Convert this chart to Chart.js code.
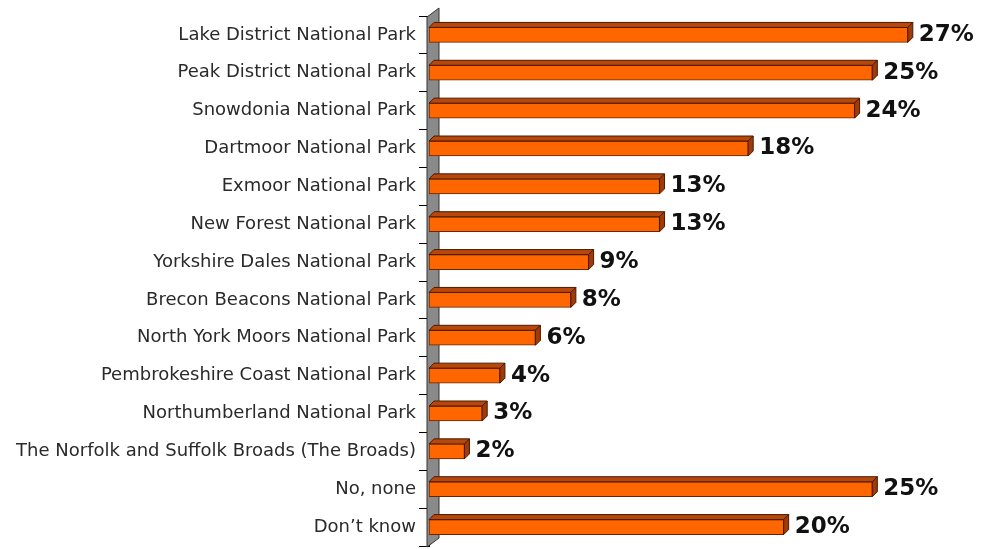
<!DOCTYPE html>
<html>
<head>
<meta charset="utf-8">
<script src="https://cdn.jsdelivr.net/npm/chart.js@4.4.1/dist/chart.umd.min.js"></script>
<style>
  html, body { margin: 0; padding: 0; background: #fff; }
  #wrap { width: 982px; height: 549px; }
</style>
</head>
<body>
<div id="wrap"><canvas id="parks" width="982" height="549"></canvas></div>
<script>
'use strict';

const categories = [
  'Lake District National Park',
  'Peak District National Park',
  'Snowdonia National Park',
  'Dartmoor National Park',
  'Exmoor National Park',
  'New Forest National Park',
  'Yorkshire Dales National Park',
  'Brecon Beacons National Park',
  'North York Moors National Park',
  'Pembrokeshire Coast National Park',
  'Northumberland National Park',
  'The Norfolk and Suffolk Broads (The Broads)',
  'No, none',
  'Don\u2019t know'
];
const percentages = [27, 25, 24, 18, 13, 13, 9, 8, 6, 4, 3, 2, 25, 20];

const DEPTH = 5;

// gray back wall behind the bars
const wallPlugin = {
  id: 'wall',
  beforeDatasetsDraw(chart) {
    const { ctx, chartArea } = chart;
    const x0 = chartArea.left - 2;
    const x1 = x0 + 12;
    ctx.save();
    ctx.fillStyle = '#8a8a8a';
    ctx.strokeStyle = '#333';
    ctx.lineWidth = 1;
    ctx.beginPath();
    ctx.moveTo(x0, chartArea.top + 1);
    ctx.lineTo(x1, chartArea.top - 8);
    ctx.lineTo(x1, chartArea.bottom - 8);
    ctx.lineTo(x0, chartArea.bottom + 1);
    ctx.closePath();
    ctx.fill();
    ctx.stroke();
    ctx.restore();
  }
};

// top and side faces for the 3D look, plus the value labels
const barFacesPlugin = {
  id: 'barFaces',
  afterDatasetsDraw(chart) {
    const { ctx } = chart;
    const meta = chart.getDatasetMeta(0);
    ctx.save();
    meta.data.forEach((bar, i) => {
      const top = bar.y - bar.height / 2;
      const bottom = bar.y + bar.height / 2;
      const left = bar.base;
      const right = bar.x;

      ctx.fillStyle = '#b8470c';
      ctx.strokeStyle = '#4a1a00';
      ctx.lineWidth = 1;
      ctx.beginPath();
      ctx.moveTo(left, top);
      ctx.lineTo(left + DEPTH, top - DEPTH);
      ctx.lineTo(right + DEPTH, top - DEPTH);
      ctx.lineTo(right, top);
      ctx.closePath();
      ctx.fill();
      ctx.stroke();

      ctx.fillStyle = '#a03a06';
      ctx.beginPath();
      ctx.moveTo(right, top);
      ctx.lineTo(right + DEPTH, top - DEPTH);
      ctx.lineTo(right + DEPTH, bottom - DEPTH);
      ctx.lineTo(right, bottom);
      ctx.closePath();
      ctx.fill();
      ctx.stroke();

      ctx.fillStyle = '#111';
      ctx.font = 'bold 23px "DejaVu Sans", Verdana, sans-serif';
      ctx.textAlign = 'left';
      ctx.textBaseline = 'middle';
      ctx.fillText(percentages[i] + '%', right + 11, bar.y);
    });
    ctx.restore();
  }
};

new Chart(document.getElementById('parks').getContext('2d'), {
  type: 'bar',
  data: {
    labels: categories,
    datasets: [
      {
        data: percentages,
        backgroundColor: '#ff6600',
        borderColor: '#6a2400',
        borderWidth: 1,
        borderSkipped: false,
        barThickness: 15
      }
    ]
  },
  options: {
    indexAxis: 'y',
    responsive: false,
    animation: false,
    layout: {
      padding: { top: 16, right: 21, bottom: 3, left: 0 }
    },
    plugins: {
      legend: { display: false },
      tooltip: { enabled: false }
    },
    scales: {
      x: {
        display: false,
        min: 0,
        max: 30
      },
      y: {
        afterFit(scale) {
          scale.width = 429;
          scale.paddingTop = 0;
          scale.paddingBottom = 0;
        },
        grid: {
          offset: true,
          drawOnChartArea: false,
          tickLength: 10,
          color: '#000'
        },
        border: { color: '#000', width: 1 },
        ticks: {
          color: '#2a2a2a',
          padding: 3,
          font: { family: '"DejaVu Sans", Tahoma, sans-serif', size: 18 }
        }
      }
    }
  },
  plugins: [wallPlugin, barFacesPlugin]
});
</script>
</body>
</html>
